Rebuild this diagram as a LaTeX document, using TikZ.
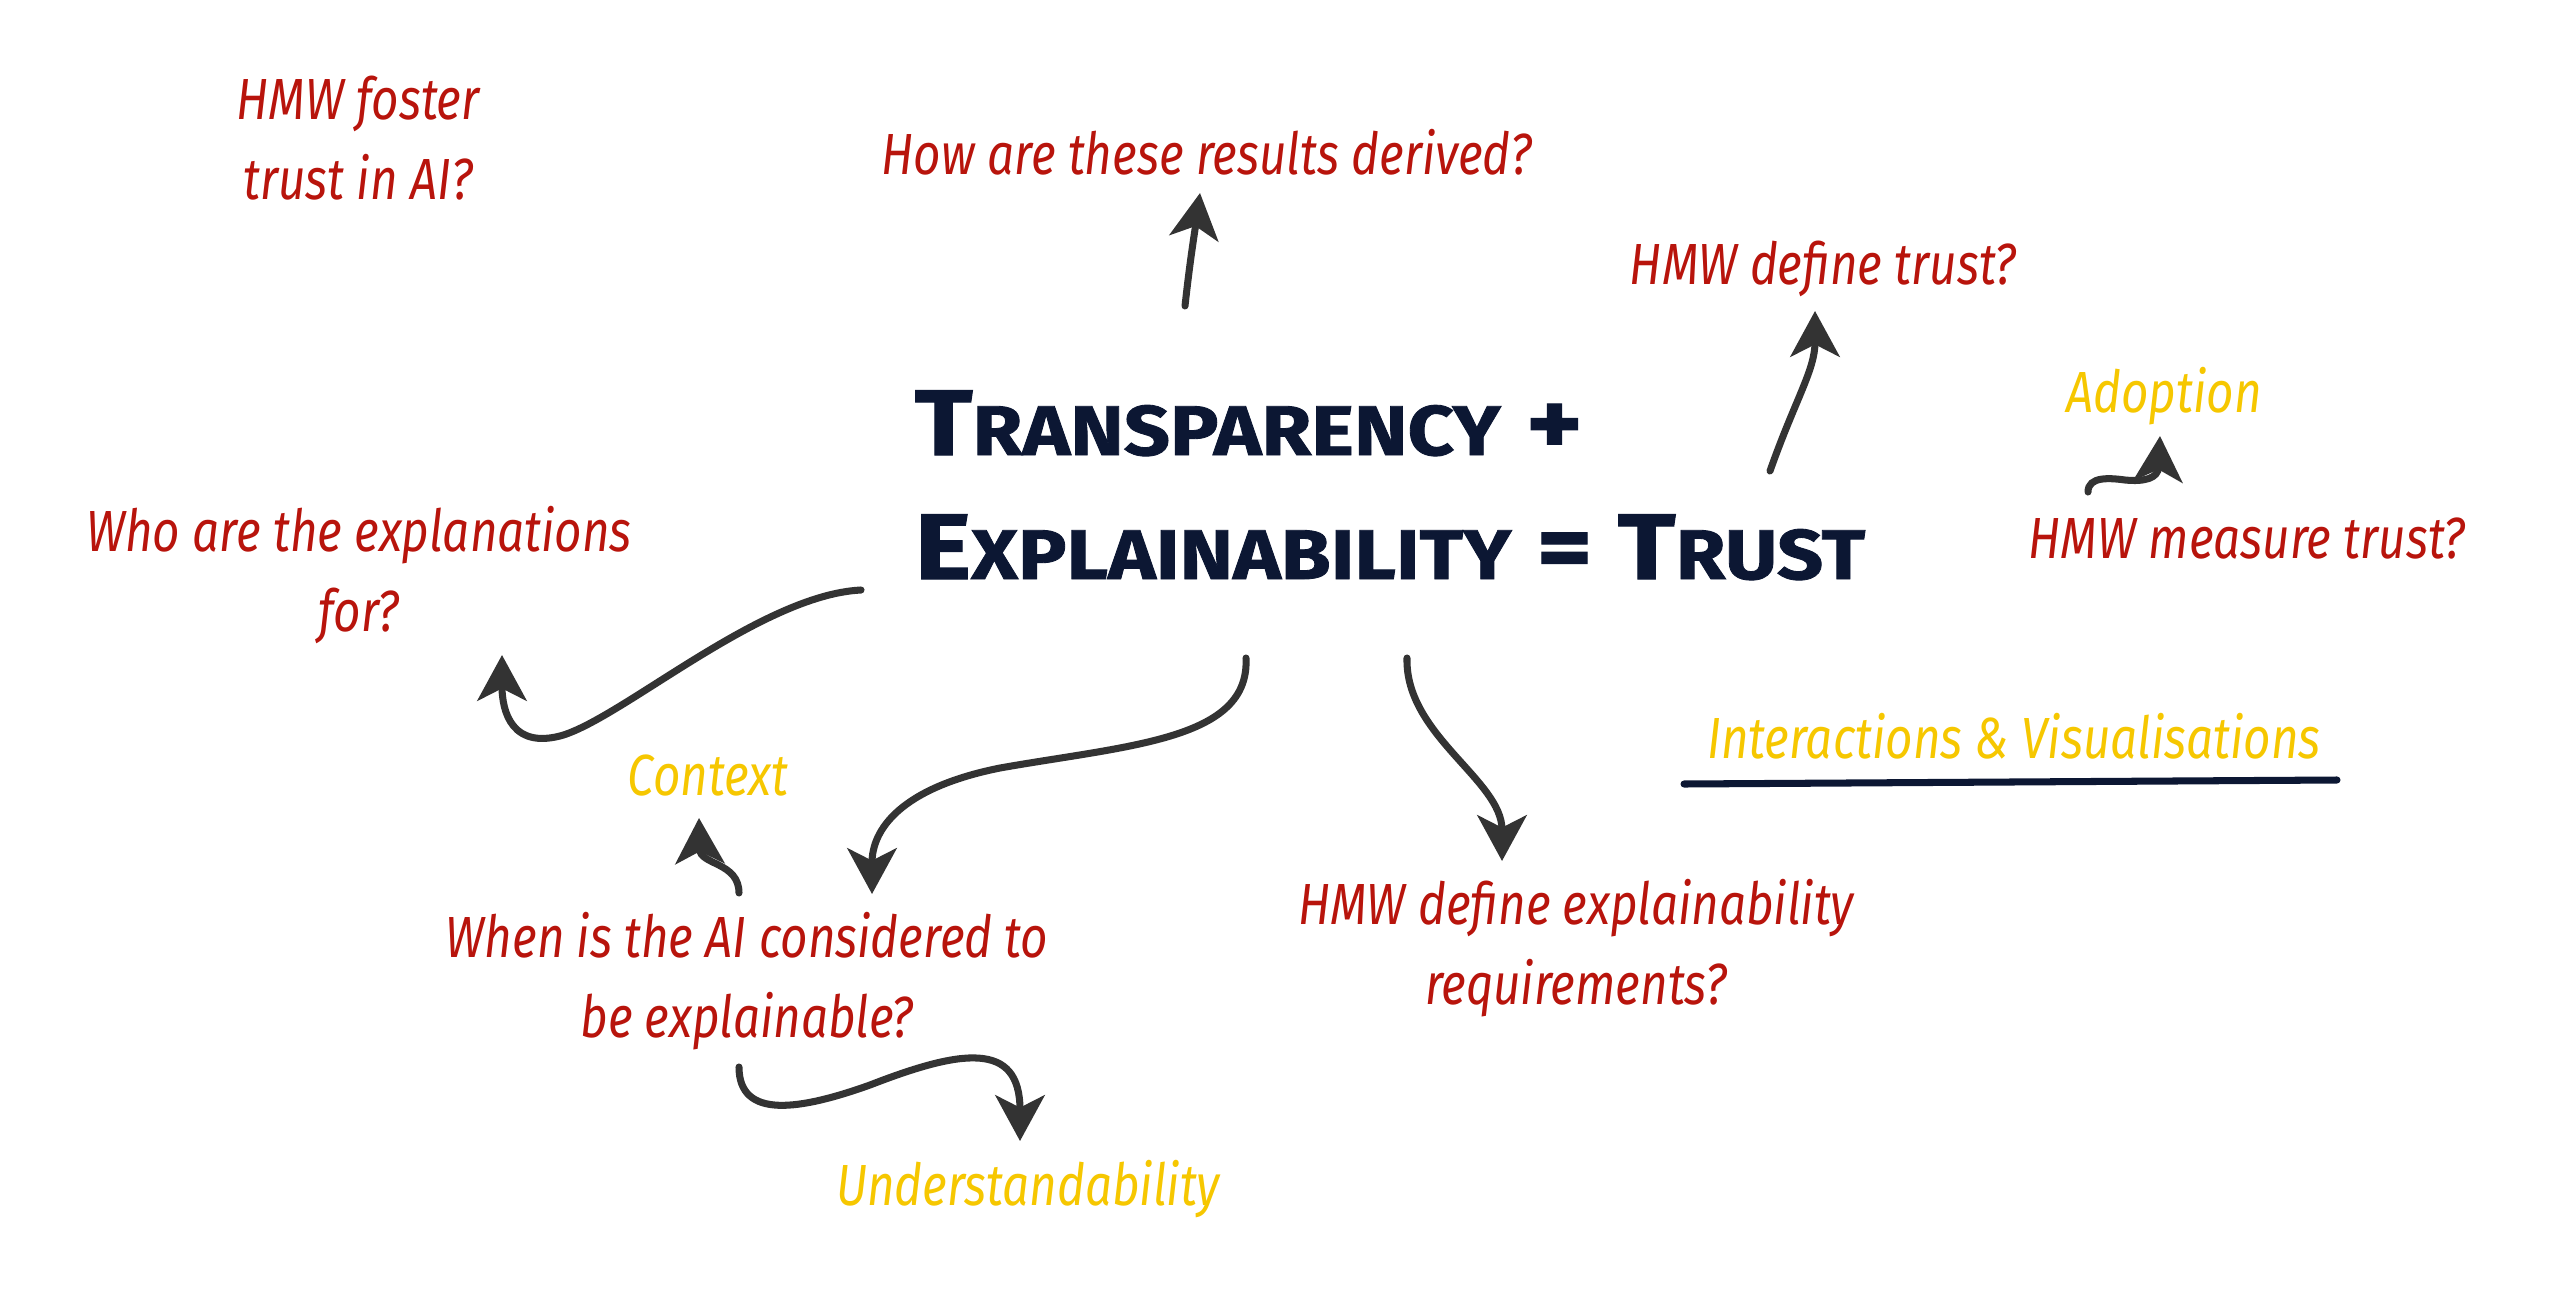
\documentclass[tikz,border=0pt]{standalone}
\usepackage{fontspec}
\setmainfont[FakeStretch=0.82]{Fira Sans}
\newfontfamily\titlefont[FakeStretch=1.15, BoldFeatures={FakeBold=1.2}]{Fira Sans}
\usepackage{xcolor}
\usetikzlibrary{arrows.meta}
\definecolor{hmw-red}{HTML}{B8140C}
\definecolor{key-gold}{HTML}{F6C700}
\definecolor{ink-navy}{HTML}{0C1733}
\definecolor{arrow-grey}{HTML}{333333}
\newcommand{\titlesc}[1]{{\fontsize{20}{21}\selectfont #1}}

\begin{document}
\begin{tikzpicture}[x=0.01cm, y=-0.01cm,
    every node/.style={inner sep=0pt},
    question/.style={text=hmw-red, align=center,
      font=\itshape\fontsize{16.5}{22.8}\selectfont},
    keyword/.style={text=key-gold,
      font=\itshape\fontsize{16.5}{22.8}\selectfont},
    headline/.style={text=ink-navy, anchor=base west,
      font=\titlefont\bfseries\fontsize{26.5}{30}\selectfont},
    link/.style={line width=2pt, color=arrow-grey, line cap=round,
      -{Stealth[length=13pt, width=14pt, inset=3.5pt]}}]
    \useasboundingbox (0,0) rectangle (2560,1306);
    \fill[white] (0,0) rectangle (2560,1306);

    % centre statement
    \node[headline] (title1) at (914,455) {T\titlesc{RANSPARENCY} +};
    \node[headline] (title2) at (914,579) {E\titlesc{XPLAINABILITY} = T\titlesc{RUST}};

    % questions and keywords
    \node[question] (foster) at (358,138) {HMW foster\\trust in AI?};
    \node[question] (derived) at (1207,152) {How are these results derived?};
    \node[question] (definetrust) at (1823,269) {HMW define trust?};
    \node[keyword] (adoption) at (2164,396) {Adoption};
    \node[question] (measure) at (2247,539) {HMW measure trust?};
    \node[question] (who) at (359,575) {Who are the explanations\\for?};
    \node[keyword] (context) at (708,776) {Context};
    \node[question] (when) at (747,981) {When is the AI considered to\\be explainable?};
    \node[keyword] (underst) at (1028,1189) {Understandability};
    \node[question] (explreq) at (1576,948) {HMW define explainability\\requirements?};
    \node[keyword] (vis) at (2014,736) {Interactions \& Visualisations};
    \draw[line width=2pt, ink-navy, line cap=round] (1684,784) -- (2337,780);

    % arrow ends
    \coordinate (whoT) at (861,590);    \coordinate (whoH) at (502,655);
    \coordinate (derT) at (1185,306);   \coordinate (derH) at (1200,193);
    \coordinate (defT) at (1770,471);   \coordinate (defH) at (1815,311);
    \coordinate (adoT) at (2088,492);   \coordinate (adoH) at (2160,436);
    \coordinate (whenT) at (1246,658);  \coordinate (whenH) at (872,894);
    \coordinate (reqT) at (1407,658);   \coordinate (reqH) at (1502,861);
    \coordinate (ctxT) at (739,893);    \coordinate (ctxH) at (699,818);
    \coordinate (undT) at (739,1067);   \coordinate (undH) at (1020,1141);

    \draw[link] (whoT) .. controls (760,595) and (620,720) .. (560,736)
      .. controls (505,750) and (502,700) .. (whoH);
    \draw[link] (derT) .. controls (1190,260) and (1195,230) .. (derH);
    \draw[link] (defT) .. controls (1795,400) and (1815,370) .. (defH);
    \draw[link] (adoT) .. controls (2088,476) and (2110,478) .. (2125,480)
      .. controls (2145,482) and (2158,478) .. (adoH);
    \draw[link] (whenT) .. controls (1250,740) and (1130,745) .. (1000,768)
      .. controls (900,788) and (872,830) .. (whenH);
    \draw[link] (reqT) .. controls (1405,735) and (1502,780) .. (reqH);
    \draw[link] (ctxT) .. controls (739,862) and (700,865) .. (ctxH);
    \draw[link] (undT) .. controls (739,1120) and (800,1110) .. (870,1085)
      .. controls (960,1050) and (1020,1040) .. (undH);
\end{tikzpicture}
\end{document}
